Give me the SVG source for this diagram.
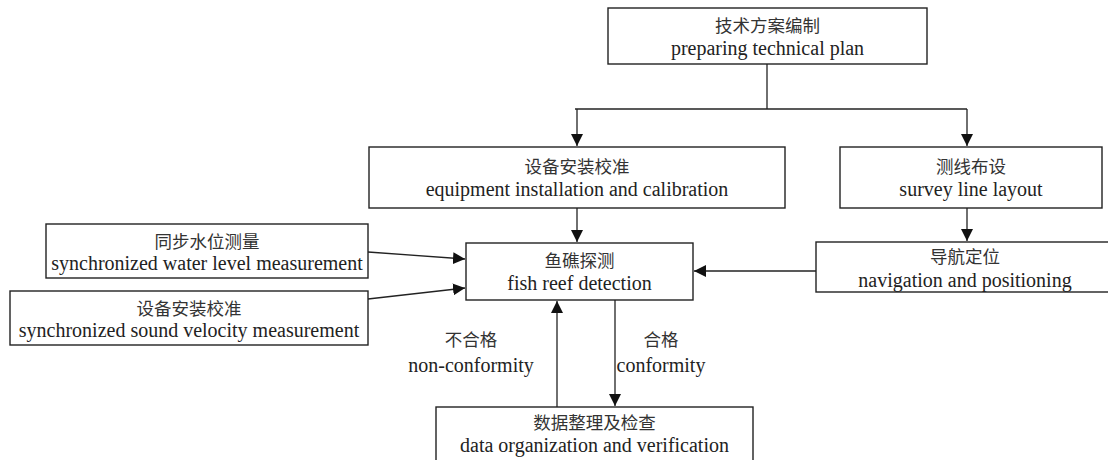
<svg xmlns="http://www.w3.org/2000/svg" width="1108" height="460" viewBox="0 0 1108 460">
<style>
.box{fill:#fff;stroke:#222;stroke-width:1.4}
.cn{font-family:"Noto Sans CJK SC","Liberation Serif",serif;font-size:17.5px;fill:#333;text-anchor:middle}
.en{font-family:"Liberation Serif",serif;font-size:20px;fill:#222;text-anchor:middle}
.ln{fill:none;stroke:#222;stroke-width:1.3}
</style>
<defs>
<marker id="ah" viewBox="0 0 10 10" refX="10" refY="5" markerWidth="12" markerHeight="12" markerUnits="userSpaceOnUse" orient="auto">
<path d="M0,0 L10,5 L0,10 Z" fill="#111"/>
</marker>
</defs>
<rect width="1108" height="460" fill="#fff"/>
<g id="connectors">
<polyline class="ln" points="767,64 767,109"/>
<polyline class="ln" points="575,109 967,109"/>
<line class="ln" x1="577" y1="109" x2="577" y2="146" marker-end="url(#ah)"/>
<line class="ln" x1="967" y1="109" x2="967" y2="146" marker-end="url(#ah)"/>
<line class="ln" x1="577" y1="208" x2="577" y2="242" marker-end="url(#ah)"/>
<line class="ln" x1="967" y1="208" x2="967" y2="241" marker-end="url(#ah)"/>
<line class="ln" x1="816" y1="271" x2="694" y2="271" marker-end="url(#ah)"/>
<line class="ln" x1="368" y1="252" x2="465" y2="259" marker-end="url(#ah)"/>
<line class="ln" x1="368" y1="299" x2="465" y2="288" marker-end="url(#ah)"/>
<line class="ln" x1="557" y1="407" x2="557" y2="301" marker-end="url(#ah)"/>
<line class="ln" x1="615" y1="300" x2="615" y2="406" marker-end="url(#ah)"/>
<text class="cn" x="471" y="346">不合格</text>
<text class="en" x="471" y="372">non-conformity</text>
<text class="cn" x="661" y="346">合格</text>
<text class="en" x="661" y="372">conformity</text>
</g>
<g id="n_plan">
<rect class="box" x="608" y="8" width="319" height="56"/>
<text class="cn" x="767.5" y="32">技术方案编制</text>
<text class="en" x="767.5" y="55">preparing technical plan</text>
</g>
<g id="n_equip">
<rect class="box" x="369" y="147" width="416" height="61"/>
<text class="cn" x="577" y="173">设备安装校准</text>
<text class="en" x="577" y="196">equipment installation and calibration</text>
</g>
<g id="n_survey">
<rect class="box" x="840" y="147" width="262" height="61"/>
<text class="cn" x="971" y="173">测线布设</text>
<text class="en" x="971" y="196">survey line layout</text>
</g>
<g id="n_fish">
<rect class="box" x="466" y="243" width="227" height="57"/>
<text class="cn" x="579.5" y="267">鱼礁探测</text>
<text class="en" x="579.5" y="290">fish reef detection</text>
</g>
<g id="n_nav">
<rect class="box" x="816" y="242" width="298" height="50"/>
<text class="cn" x="965" y="263">导航定位</text>
<text class="en" x="965" y="287">navigation and positioning</text>
</g>
<g id="n_water">
<rect class="box" x="46" y="224" width="322" height="54"/>
<text class="cn" x="207" y="248">同步水位测量</text>
<text class="en" x="207" y="270">synchronized water level measurement</text>
</g>
<g id="n_sound">
<rect class="box" x="10" y="291" width="358" height="54"/>
<text class="cn" x="189" y="315">设备安装校准</text>
<text class="en" x="189" y="337">synchronized sound velocity measurement</text>
</g>
<g id="n_data">
<rect class="box" x="436" y="407" width="317" height="56"/>
<text class="cn" x="594.5" y="429">数据整理及检查</text>
<text class="en" x="594.5" y="452">data organization and verification</text>
</g>
</svg>
